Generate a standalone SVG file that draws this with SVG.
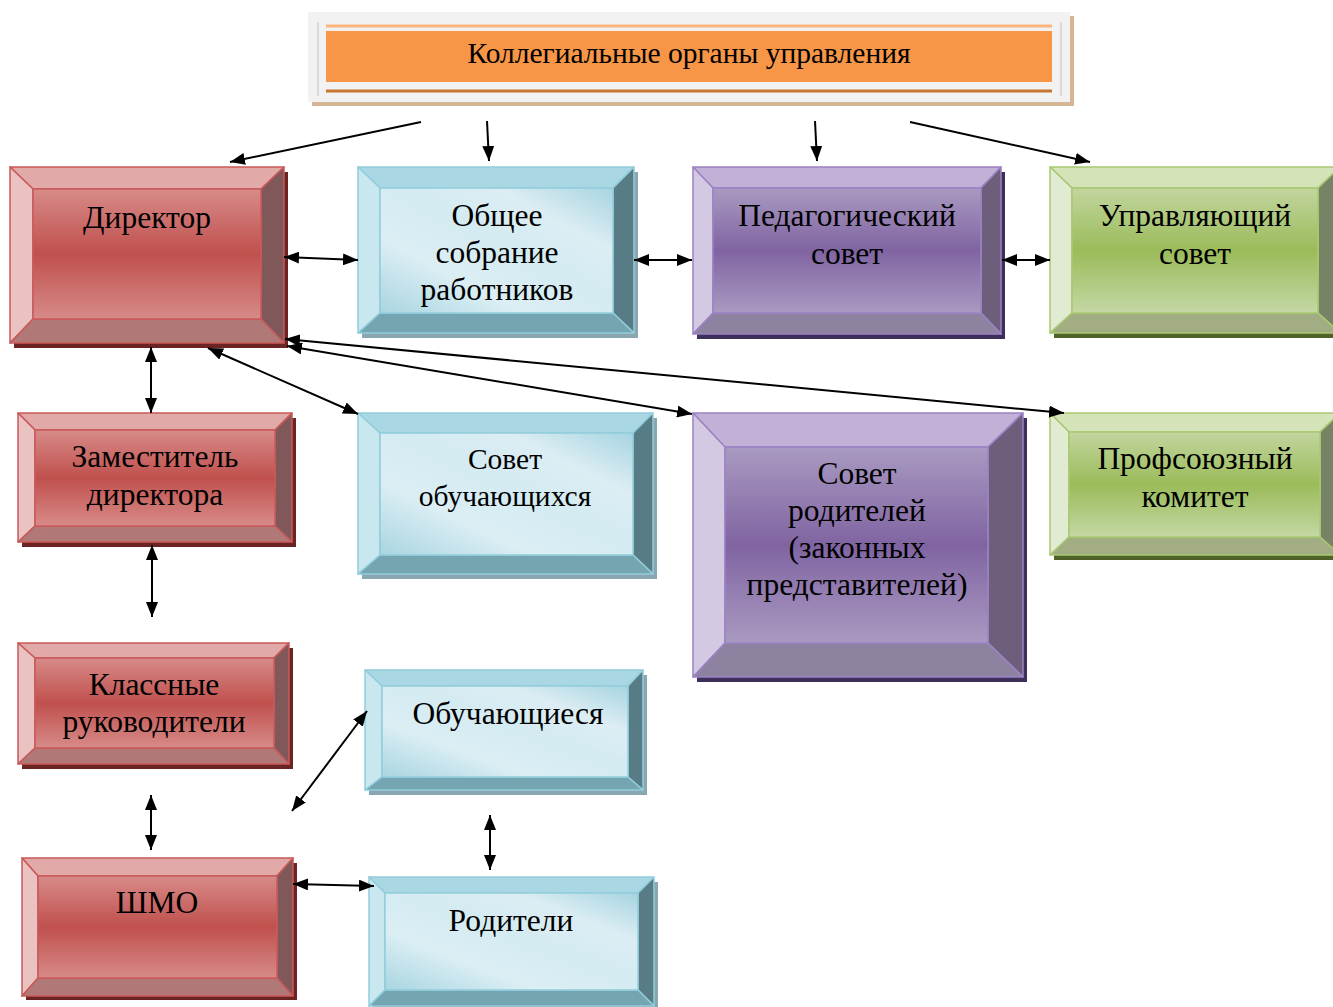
<svg xmlns="http://www.w3.org/2000/svg" width="1333" height="1007" viewBox="0 0 1333 1007">
<style>
text{font-family:"Liberation Serif","Times New Roman",serif;font-size:31.5px;fill:#000;text-anchor:middle}
.hdr{font-size:29.5px}
.sm{font-size:29.5px}
.con path{fill:none;stroke:#000;stroke-width:2}
.r .tp{fill:#e1a9a7}.r .lf{fill:#e9c2c1}.r .rt{fill:#80585a}.r .bt{fill:#b07876}.r .fc{fill:url(#gRed)}.r .sh{fill:#6b2423}
.r polygon,.r .fc,.r .ol{stroke:#c9595a;stroke-width:1.5;stroke-linejoin:round}
.b .tp{fill:#a9d7e3}.b .lf{fill:#c9e7ef}.b .rt{fill:#577c86}.b .bt{fill:#74a5b1}.b .fc{fill:url(#gBlue)}.b .sh{fill:#8aa6b0}
.b polygon,.b .fc,.b .ol{stroke:#92cddc;stroke-width:1.5;stroke-linejoin:round}
.p .tp{fill:#c1b1d6}.p .lf{fill:#d3c9e3}.p .rt{fill:#6d5f7b}.p .bt{fill:#8d83a1}.p .fc{fill:url(#gPur)}.p .sh{fill:#3d2f5a}
.p polygon,.p .fc,.p .ol{stroke:#9c83c3;stroke-width:1.5;stroke-linejoin:round}
.g .tp{fill:#d5e3b9}.g .lf{fill:#e1ebd1}.g .rt{fill:#768364}.g .bt{fill:#a3ad83}.g .fc{fill:url(#gGrn)}.g .sh{fill:#4f6228}
.g polygon,.g .fc,.g .ol{stroke:#a9c871;stroke-width:1.5;stroke-linejoin:round}
</style>
<defs>
<linearGradient id="gRed" x1="0" y1="0" x2="0" y2="1">
<stop offset="0" stop-color="#d78b89"/><stop offset="0.5" stop-color="#c0504d"/><stop offset="1" stop-color="#d78b89"/>
</linearGradient>
<linearGradient id="gPur" x1="0" y1="0" x2="0" y2="1">
<stop offset="0" stop-color="#a99ac1"/><stop offset="0.5" stop-color="#8064a2"/><stop offset="1" stop-color="#a99ac1"/>
</linearGradient>
<linearGradient id="gGrn" x1="0" y1="0" x2="0" y2="1">
<stop offset="0" stop-color="#c2d69f"/><stop offset="0.5" stop-color="#9bbb59"/><stop offset="1" stop-color="#c4d8a5"/>
</linearGradient>
<linearGradient id="gBlue" x1="0" y1="1" x2="1" y2="0">
<stop offset="0" stop-color="#a8d5e1"/><stop offset="0.3" stop-color="#dbeef4"/><stop offset="0.55" stop-color="#d4ebf2"/><stop offset="0.75" stop-color="#dcedf3"/><stop offset="1" stop-color="#a6d4e1"/>
</linearGradient>
<marker id="ah" markerUnits="userSpaceOnUse" markerWidth="15" markerHeight="12" refX="15" refY="6" orient="auto-start-reverse">
<path d="M0,0 L15,6 L0,12 Z" fill="#000"/>
</marker>
</defs>
<rect width="1333" height="1007" fill="#fff"/>

<g id="header">
<rect x="312" y="16" width="762" height="90" fill="#d6b597"/>
<rect x="308" y="12" width="762" height="90" fill="#f2f2f2"/>
<line x1="318" y1="22" x2="318" y2="96" stroke="#d9d9d9" stroke-width="2"/>
<line x1="1061" y1="22" x2="1061" y2="96" stroke="#d9d9d9" stroke-width="2"/>
<line x1="326" y1="26" x2="1052" y2="26" stroke="#fbb47c" stroke-width="3"/>
<rect x="326" y="31" width="726" height="51" fill="#f79646"/>
<line x1="326" y1="91" x2="1052" y2="91" stroke="#c6762f" stroke-width="3"/>
<text class="hdr" x="689" y="63">Коллегиальные органы управления</text>
</g>

<g id="director" class="r">
<rect class="sh" x="14" y="172" width="274" height="176"/>
<polygon class="tp" points="10,167 284,167 261,189 33,189"/>
<polygon class="lf" points="10,167 33,189 33,319 10,343"/>
<polygon class="rt" points="284,167 284,343 261,319 261,189"/>
<polygon class="bt" points="10,343 33,319 261,319 284,343"/>
<rect class="fc" x="33" y="189" width="228" height="130"/>
<text x="147" y="228">Директор</text>
</g>

<g id="obshchee" class="b">
<rect class="sh" x="362" y="172" width="276" height="166"/>
<polygon class="tp" points="358,167 634,167 613,188 380,188"/>
<polygon class="lf" points="358,167 380,188 380,313 358,333"/>
<polygon class="rt" points="634,167 634,333 613,313 613,188"/>
<polygon class="bt" points="358,333 380,313 613,313 634,333"/>
<rect class="fc" x="380" y="188" width="233" height="125"/>
<text x="497" y="226">Общее</text>
<text x="497" y="263">собрание</text>
<text x="497" y="300">работников</text>
</g>

<g id="pedsovet" class="p">
<rect class="sh" x="697" y="172" width="308" height="167"/>
<polygon class="tp" points="693,167 1001,167 981,188 713,188"/>
<polygon class="lf" points="693,167 713,188 713,313 693,334"/>
<polygon class="rt" points="1001,167 1001,334 981,313 981,188"/>
<polygon class="bt" points="693,334 713,313 981,313 1001,334"/>
<rect class="fc" x="713" y="188" width="268" height="125"/>
<text x="847" y="226">Педагогический</text>
<text x="847" y="264">совет</text>
</g>

<g id="upravsovet" class="g">
<rect class="sh" x="1054" y="172" width="290" height="166"/>
<polygon class="tp" points="1050,167 1340,167 1318,188 1072,188"/>
<polygon class="lf" points="1050,167 1072,188 1072,313 1050,333"/>
<polygon class="rt" points="1340,167 1340,333 1318,313 1318,188"/>
<polygon class="bt" points="1050,333 1072,313 1318,313 1340,333"/>
<rect class="fc" x="1072" y="188" width="246" height="125"/>
<text x="1195" y="226">Управляющий</text>
<text x="1195" y="264">совет</text>
</g>

<g id="zamestitel" class="r">
<rect class="sh" x="22" y="418" width="274" height="129"/>
<polygon class="tp" points="18,413 292,413 275,430 35,430"/>
<polygon class="lf" points="18,413 35,430 35,526 18,542"/>
<polygon class="rt" points="292,413 292,542 275,526 275,430"/>
<polygon class="bt" points="18,542 35,526 275,526 292,542"/>
<rect class="fc" x="35" y="430" width="240" height="96"/>
<text x="155" y="467">Заместитель</text>
<text x="155" y="505">директора</text>
</g>

<g id="sovet-obuch" class="b">
<rect class="sh" x="362" y="418" width="295" height="161"/>
<polygon class="tp" points="358,413 653,413 633,433 380,433"/>
<polygon class="lf" points="358,413 380,433 380,555 358,574"/>
<polygon class="rt" points="653,413 653,574 633,555 633,433"/>
<polygon class="bt" points="358,574 380,555 633,555 653,574"/>
<rect class="fc" x="380" y="433" width="253" height="122"/>
<text class="sm" x="505" y="469">Совет</text>
<text class="sm" x="505" y="506">обучающихся</text>
</g>

<g id="sovet-rod" class="p">
<rect class="sh" x="697" y="418" width="330" height="264"/>
<polygon class="tp" points="693,413 1023,413 988,447 725,447"/>
<polygon class="lf" points="693,413 725,447 725,643 693,677"/>
<polygon class="rt" points="1023,413 1023,677 988,643 988,447"/>
<polygon class="bt" points="693,677 725,643 988,643 1023,677"/>
<rect class="fc" x="725" y="447" width="263" height="196"/>
<text x="857" y="484">Совет</text>
<text x="857" y="521">родителей</text>
<text x="857" y="558">(законных</text>
<text x="857" y="595">представителей)</text>
</g>

<g id="profkom" class="g">
<rect class="sh" x="1054" y="418" width="290" height="142"/>
<polygon class="tp" points="1050,413 1340,413 1320,432 1069,432"/>
<polygon class="lf" points="1050,413 1069,432 1069,537 1050,555"/>
<polygon class="rt" points="1340,413 1340,555 1320,537 1320,432"/>
<polygon class="bt" points="1050,555 1069,537 1320,537 1340,555"/>
<rect class="fc" x="1069" y="432" width="251" height="105"/>
<text x="1195" y="469">Профсоюзный</text>
<text x="1195" y="507">комитет</text>
</g>

<g id="klassnye" class="r">
<rect class="sh" x="22" y="648" width="271" height="121"/>
<polygon class="tp" points="18,643 289,643 274,658 35,658"/>
<polygon class="lf" points="18,643 35,658 35,748 18,764"/>
<polygon class="rt" points="289,643 289,764 274,748 274,658"/>
<polygon class="bt" points="18,764 35,748 274,748 289,764"/>
<rect class="fc" x="35" y="658" width="239" height="90"/>
<text x="154" y="695">Классные</text>
<text x="154" y="732">руководители</text>
</g>

<g id="obuchayushchiesya" class="b">
<rect class="sh" x="369" y="675" width="278" height="120"/>
<polygon class="tp" points="365,670 643,670 628,686 382,686"/>
<polygon class="lf" points="365,670 382,686 382,777 365,790"/>
<polygon class="rt" points="643,670 643,790 628,777 628,686"/>
<polygon class="bt" points="365,790 382,777 628,777 643,790"/>
<rect class="fc" x="382" y="686" width="246" height="91"/>
<text x="508" y="724">Обучающиеся</text>
</g>

<g id="shmo" class="r">
<rect class="sh" x="26" y="863" width="271" height="137"/>
<polygon class="tp" points="22,858 293,858 277,876 38,876"/>
<polygon class="lf" points="22,858 38,876 38,978 22,996"/>
<polygon class="rt" points="293,858 293,996 277,978 277,876"/>
<polygon class="bt" points="22,996 38,978 277,978 293,996"/>
<rect class="fc" x="38" y="876" width="239" height="102"/>
<text x="157" y="913">ШМО</text>
</g>

<g id="roditeli" class="b">
<rect class="sh" x="373" y="882" width="285" height="130"/>
<polygon class="tp" points="369,877 654,877 638,893 385,893"/>
<polygon class="lf" points="369,877 385,893 385,990 369,1006"/>
<polygon class="rt" points="654,877 654,1006 638,990 638,893"/>
<polygon class="bt" points="369,1006 385,990 638,990 654,1006"/>
<rect class="fc" x="385" y="893" width="253" height="97"/>
<text x="511" y="931">Родители</text>
</g>

<g id="connectors" class="con">
<path d="M421,122 L230,162" marker-end="url(#ah)"/>
<path d="M487,121 L489,161" marker-end="url(#ah)"/>
<path d="M815,121 L817,161" marker-end="url(#ah)"/>
<path d="M910,122 L1090,162" marker-end="url(#ah)"/>
<path d="M284,257 L358,260" marker-start="url(#ah)" marker-end="url(#ah)"/>
<path d="M634,260 L692,260" marker-start="url(#ah)" marker-end="url(#ah)"/>
<path d="M1002,260 L1050,260" marker-start="url(#ah)" marker-end="url(#ah)"/>
<path d="M151,347 L151,413" marker-start="url(#ah)" marker-end="url(#ah)"/>
<path d="M208,348 L358,414" marker-start="url(#ah)" marker-end="url(#ah)"/>
<path d="M285,339 L1064,413" marker-start="url(#ah)" marker-end="url(#ah)"/>
<path d="M287,346 L692,414" marker-start="url(#ah)" marker-end="url(#ah)"/>
<path d="M152,545 L152,617" marker-start="url(#ah)" marker-end="url(#ah)"/>
<path d="M151,795 L151,850" marker-start="url(#ah)" marker-end="url(#ah)"/>
<path d="M292,811 L367,711" marker-start="url(#ah)" marker-end="url(#ah)"/>
<path d="M490,815 L490,870" marker-start="url(#ah)" marker-end="url(#ah)"/>
<path d="M293,884 L374,886" marker-start="url(#ah)" marker-end="url(#ah)"/>
</g>
</svg>
